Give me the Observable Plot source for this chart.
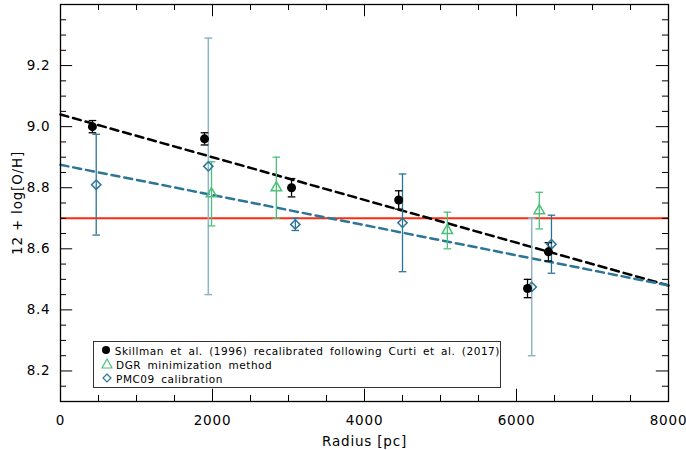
<!DOCTYPE html>
<html><head><meta charset="utf-8">
<script src="https://cdn.jsdelivr.net/npm/d3@7"></script>
<script src="https://cdn.jsdelivr.net/npm/@observablehq/plot@0.6"></script>
<style>
body{margin:0;background:#fff;font-family:"DejaVu Sans",sans-serif;}
#wrap{position:relative;width:686px;height:450px;}
#chart svg text{font-size:13.5px;letter-spacing:0.8px;}
#legend{position:absolute;left:93px;top:341px;width:408px;height:47px;border:1.5px solid #333;background:#fff;font-size:10.5px;letter-spacing:0.55px;word-spacing:2.5px;line-height:14px;padding-top:2px;box-sizing:border-box;white-space:nowrap;}
#legend div{display:flex;align-items:center;padding-left:7px;}
#legend span.s{display:inline-block;width:12px;text-align:center;margin-right:3px;}
</style></head><body>
<div id="wrap"><div id="chart"></div>
<div id="legend">
<div><span class="s"><svg width="10" height="10"><circle cx="5" cy="5" r="4" fill="#000"/></svg></span>Skillman et al. (1996) recalibrated following Curti et al. (2017)</div>
<div><span class="s"><svg width="12" height="11"><path d="M6,1 L11,10 L1,10 Z" fill="none" stroke="#4cc07a" stroke-width="1.2"/></svg></span>DGR minimization method</div>
<div><span class="s"><svg width="10" height="10"><path d="M5,1 L9,5 L5,9 L1,5 Z" fill="none" stroke="#2d7597" stroke-width="1.2"/></svg></span>PMC09 calibration</div>
</div></div>
<script>
const skX=[420,1895,3040,4450,6145,6420];
const skY=[9.00,8.96,8.80,8.76,8.47,8.59];
const skE=[0.02,0.02,0.03,0.03,0.03,0.03];
const dgX=[1987,2840,5090,6300];
const dgY=[8.78,8.80,8.66,8.725];
const dgE=[0.105,0.10,0.06,0.06];
const pmX=[470,1945,3090,4500,6200,6460];
const pmY=[8.81,8.87,8.68,8.685,8.475,8.615];
const pmE=[0.165,0.42,0.02,0.16,0.225,0.095];
const pmFaint=[false,true,false,false,true,false];
const fitSk=[[0,9.04],[8000,8.48]];
const fitPm=[[0,8.875],[8000,8.48]];
const solar=8.70;
const xTicks=[0,2000,4000,6000,8000];
const yTicks=[8.2,8.4,8.6,8.8,9.0,9.2];

const sk=skX.map((x,i)=>({x,y:skY[i],e:skE[i]}));
const dg=dgX.map((x,i)=>({x,y:dgY[i],e:dgE[i]}));
const pm=pmX.map((x,i)=>({x,y:pmY[i],e:pmE[i],f:pmFaint[i]}));
const blue="#2d7597", faint="#8fb4c6", green="#4cc07a";
const xMinor=d3.range(0,8001,500), yMinor=d3.range(8.1,9.401,0.05).map(v=>+v.toFixed(2));
const ebar=(data,color,w)=>[
  Plot.ruleX(data,{x:"x",y1:d=>d.y-d.e,y2:d=>d.y+d.e,stroke:color,strokeWidth:w}),
  Plot.link(data,{x1:d=>d.x-50,x2:d=>d.x+50,y1:d=>d.y+d.e,y2:d=>d.y+d.e,stroke:color,strokeWidth:w}),
  Plot.link(data,{x1:d=>d.x-50,x2:d=>d.x+50,y1:d=>d.y-d.e,y2:d=>d.y-d.e,stroke:color,strokeWidth:w})];
const lenMajX=160,lenMinX=80,lenMajY=0.04,lenMinY=0.02;
const chart=Plot.plot({
  width:686,height:450,marginLeft:60,marginRight:18,marginTop:4,marginBottom:49,
  style:{fontFamily:"DejaVu Sans, sans-serif",fontSize:"13px",color:"#000"},
  x:{domain:[0,8000],ticks:xTicks,tickSize:0,tickPadding:14,tickFormat:d3.format("d"),label:"Radius [pc]",labelAnchor:"center",labelArrow:"none",labelOffset:44},
  y:{domain:[8.1,9.4],ticks:yTicks,tickSize:0,tickPadding:10,tickFormat:d3.format(".1f"),label:"12 + log[O/H]",labelAnchor:"center",labelArrow:"none",labelOffset:48},
  marks:[
    Plot.ruleY([solar],{stroke:"#ff2a10",strokeWidth:2}),
    Plot.line(fitSk,{x:d=>d[0],y:d=>d[1],stroke:"#000",strokeWidth:2.5,strokeDasharray:"8,5"}),
    Plot.line(fitPm,{x:d=>d[0],y:d=>d[1],stroke:blue,strokeWidth:2.5,strokeDasharray:"8,5"}),
    ...ebar(pm.filter(d=>d.f),faint,1.5),
    ...ebar(pm.filter(d=>!d.f),blue,1.3),
    ...ebar(dg,green,1.3),
    ...ebar(sk,"#000",1.3),
    Plot.dot(pm,{x:"x",y:"y",symbol:"diamond2",r:4.2,stroke:blue,strokeWidth:1.5,fill:"none"}),
    Plot.dot(dg,{x:"x",y:"y",symbol:"triangle2",r:5,stroke:green,strokeWidth:1.5,fill:"none"}),
    Plot.dot(sk,{x:"x",y:"y",r:4.5,fill:"#000"}),
    Plot.ruleX(xMinor,{y1:8.1,y2:v=>8.1+(v%2000===0?lenMajY:lenMinY),stroke:"#000"}),
    Plot.ruleX(xMinor,{y1:9.4,y2:v=>9.4-(v%2000===0?lenMajY:lenMinY),stroke:"#000"}),
    Plot.ruleY(yMinor,{x1:0,x2:v=>(Math.round(v*100)%20===0?lenMajX:lenMinX),stroke:"#000"}),
    Plot.ruleY(yMinor,{x1:8000,x2:v=>8000-(Math.round(v*100)%20===0?lenMajX:lenMinX),stroke:"#000"}),
    Plot.frame({stroke:"#000",strokeWidth:1.3})
  ]
});
document.getElementById("chart").appendChild(chart);
</script></body></html>
